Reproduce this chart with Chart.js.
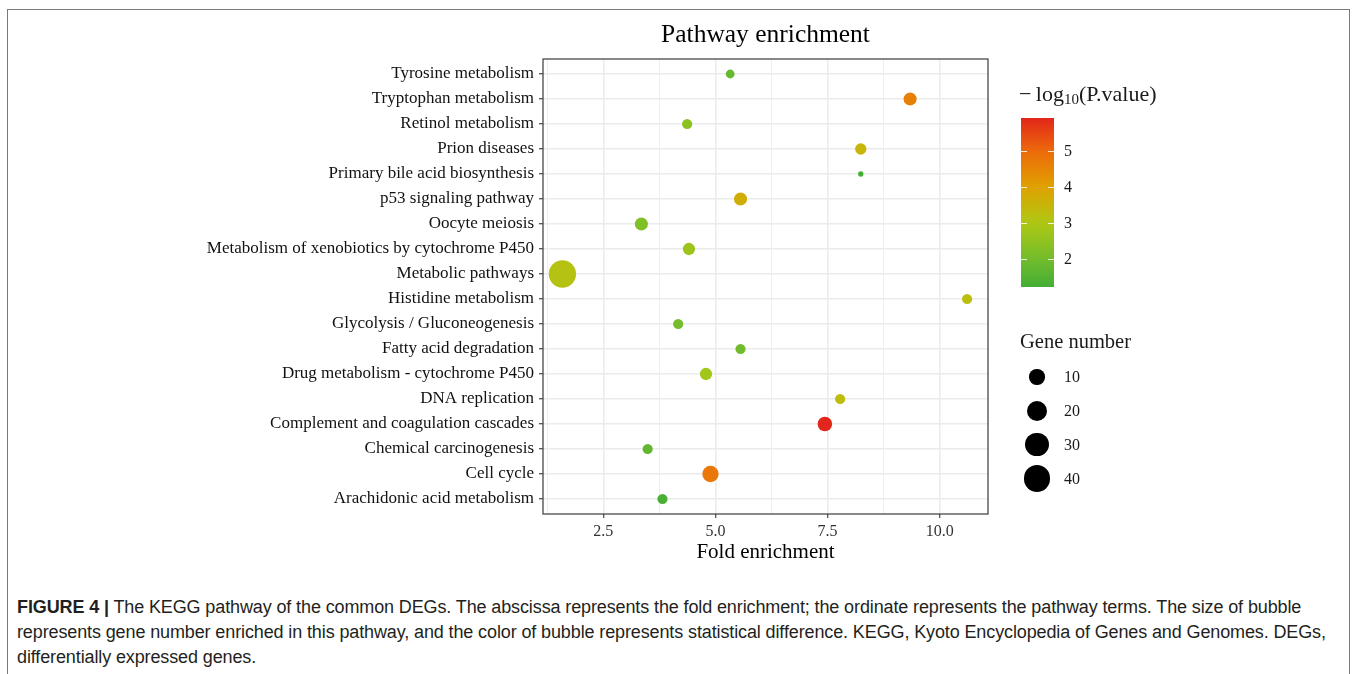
<!DOCTYPE html>
<html>
<head>
<meta charset="utf-8">
<script src="https://cdn.jsdelivr.net/npm/chart.js@4/dist/chart.umd.min.js"></script>
<style>
  html, body { margin: 0; padding: 0; background: #fff; width: 1355px; height: 674px; overflow: hidden; }
  #frame { position: absolute; left: 7px; top: 9px; width: 1343px; height: 720px; border: 1.5px solid #7a7a7a; box-sizing: border-box; }
  #wrap { position: absolute; left: 0; top: 0; width: 1355px; height: 575px; }
  .serif { font-family: "Liberation Serif", "Times New Roman", serif; color: #1a1a1a; position: absolute; white-space: nowrap; }
  #cbTitle { left: 1019px; top: 80px; font-size: 22px; line-height: 28px; }
  #cbTitle sub { font-size: 15px; vertical-align: -3px; line-height: 0; }
  #colorbar { position: absolute; left: 1021px; top: 118px; width: 33px; height: 169px; }
  .cbTick { position: absolute; height: 1px; width: 6px; background: rgba(255,255,255,0.85); }
  .lab { font-size: 16px; line-height: 16px; }
  #gnTitle { left: 1020px; top: 329px; font-size: 20.5px; line-height: 24px; }
  .dot { position: absolute; border-radius: 50%; background: #000; }
  #caption { position: absolute; left: 17px; top: 595px; font-family: "Liberation Sans", Arial, sans-serif; font-size: 18px; line-height: 25px; color: #231f20; white-space: nowrap; letter-spacing: -0.12px; }
  #caption b { font-weight: bold; }
</style>
</head>
<body>
<div id="frame"></div>
<div id="wrap"><canvas id="chart" width="1355" height="575"></canvas></div>
<div id="cbTitle" class="serif">&minus;&thinsp;log<sub>10</sub>(P.value)</div>
<div id="colorbar"></div>
<div id="gnTitle" class="serif">Gene number</div>
<div id="caption"><b>FIGURE 4 |</b> The KEGG pathway of the common DEGs. The abscissa represents the fold enrichment; the ordinate represents the pathway terms. The size of bubble<br>represents gene number enriched in this pathway, and the color of bubble represents statistical difference. KEGG, Kyoto Encyclopedia of Genes and Genomes. DEGs,<br>differentially expressed genes.</div>

<script>
// KEGG pathways, listed top to bottom as they appear on the y axis
const pathways = [
  'Tyrosine metabolism',
  'Tryptophan metabolism',
  'Retinol metabolism',
  'Prion diseases',
  'Primary bile acid biosynthesis',
  'p53 signaling pathway',
  'Oocyte meiosis',
  'Metabolism of xenobiotics by cytochrome P450',
  'Metabolic pathways',
  'Histidine metabolism',
  'Glycolysis / Gluconeogenesis',
  'Fatty acid degradation',
  'Drug metabolism - cytochrome P450',
  'DNA replication',
  'Complement and coagulation cascades',
  'Chemical carcinogenesis',
  'Cell cycle',
  'Arachidonic acid metabolism'
];
const foldEnrichment = [5.33, 9.34, 4.37, 8.24, 8.24, 5.56, 3.35, 4.41, 1.59, 10.61, 4.17, 5.56, 4.79, 7.78, 7.44, 3.49, 4.89, 3.82];
const geneNumber     = [3, 7, 4, 5, 2, 7, 7, 6, 42, 4, 4, 4, 6, 4, 9, 4, 12, 4];
const negLog10P      = [1.80, 4.60, 2.45, 3.50, 1.23, 3.70, 2.25, 2.70, 3.15, 3.25, 2.05, 2.00, 2.80, 3.30, 5.92, 1.75, 4.75, 1.35];

// axis ticks
const xGridValues = [1.25, 2.5, 3.75, 5, 6.25, 7.5, 8.75, 10];
const xLabelStep = 2.5;
const colorbarTicks = [2, 3, 4, 5];
const geneLegendValues = [10, 20, 30, 40];

const X_MIN = 1.157, X_MAX = 11.076;
const SERIF = '"Liberation Serif", "Times New Roman", serif';

// colour scale for -log10(P) (green -> yellow -> orange -> red)
const colorStops = [
  [1.23, [67, 174, 53]],
  [2.0,  [114, 188, 44]],
  [3.0,  [174, 200, 20]],
  [4.0,  [223, 162, 0]],
  [5.0,  [236, 106, 10]],
  [5.92, [227, 38, 27]]
];
function colorFor(v) {
  if (v <= colorStops[0][0]) return 'rgb(' + colorStops[0][1].join(',') + ')';
  for (let i = 1; i < colorStops.length; i++) {
    const [v1, c1] = colorStops[i];
    const [v0, c0] = colorStops[i - 1];
    if (v <= v1) {
      const t = (v - v0) / (v1 - v0);
      const c = c0.map((a, k) => Math.round(a + (c1[k] - a) * t));
      return 'rgb(' + c.join(',') + ')';
    }
  }
  return 'rgb(' + colorStops[colorStops.length - 1][1].join(',') + ')';
}

// bubble area scale: size from 1 to 6 by sqrt of the rescaled gene count
const nMin = Math.min(...geneNumber), nMax = Math.max(...geneNumber);
function diameterFor(n) {
  const t = Math.max(0, (n - nMin) / (nMax - nMin));
  return 0.9 + 4.4 * (1 + 5 * Math.sqrt(t));
}

const points = pathways.map((_, i) => ({ x: foldEnrichment[i], y: i + 1 }));
const radii = geneNumber.map(n => diameterFor(n) / 2);
const colors = negLog10P.map(colorFor);

const isMajor = v => Math.abs(v / xLabelStep - Math.round(v / xLabelStep)) < 1e-6;

const panelBorder = {
  id: 'panelBorder',
  afterDraw(chart) {
    const { ctx, chartArea: a } = chart;
    ctx.save();
    ctx.strokeStyle = '#3a3a3a';
    ctx.lineWidth = 1.2;
    ctx.strokeRect(a.left, a.top, a.right - a.left, a.bottom - a.top);
    ctx.restore();
  }
};

new Chart(document.getElementById('chart'), {
  type: 'scatter',
  data: {
    datasets: [{
      data: points,
      pointRadius: radii,
      pointHoverRadius: radii,
      pointBackgroundColor: colors,
      pointBorderWidth: 0,
      borderWidth: 0
    }]
  },
  options: {
    responsive: false,
    animation: false,
    devicePixelRatio: 1,
    layout: { padding: { left: 0, right: 367, top: 0, bottom: 0 } },
    plugins: { legend: { display: false }, tooltip: { enabled: false } },
    scales: {
      x: {
        type: 'linear', position: 'bottom', min: X_MIN, max: X_MAX,
        afterBuildTicks: s => { s.ticks = xGridValues.map(v => ({ value: v })); },
        afterFit: s => { s.height = 61; },
        border: { display: false },
        grid: {
          color: '#ebebeb',
          lineWidth: c => (c.tick && isMajor(c.tick.value)) ? 1.5 : 0.8,
          drawTicks: true, tickLength: 4, tickWidth: 1.1,
          tickColor: c => (c.tick && isMajor(c.tick.value)) ? '#333' : 'rgba(0,0,0,0)'
        },
        ticks: {
          autoSkip: false, maxRotation: 0, padding: 4, color: '#333',
          font: { family: SERIF, size: 16 },
          callback: v => isMajor(v) ? v.toFixed(1) : ''
        },
        title: { display: true, text: 'Fold enrichment', color: '#000', font: { family: SERIF, size: 21 }, padding: { top: 0, bottom: 10 } }
      },
      x2: {
        type: 'linear', position: 'top', min: X_MIN, max: X_MAX,
        afterFit: s => { s.height = 59; },
        border: { display: false },
        grid: { display: false },
        ticks: { display: false },
        title: { display: true, text: 'Pathway enrichment', color: '#000', font: { family: SERIF, size: 25.5 }, padding: { top: 20, bottom: 0 } }
      },
      y: {
        type: 'linear', reverse: true, min: 0.4, max: pathways.length + 0.6,
        afterBuildTicks: s => { s.ticks = pathways.map((_, i) => ({ value: i + 1 })); },
        afterFit: s => { s.width = 543; },
        border: { display: false },
        grid: { color: '#ebebeb', lineWidth: 1.5, drawTicks: true, tickLength: 4, tickWidth: 1.1, tickColor: '#333' },
        ticks: {
          autoSkip: false, padding: 5, color: '#111',
          font: { family: SERIF, size: 17 },
          callback: v => pathways[Math.round(v) - 1]
        }
      }
    }
  },
  plugins: [panelBorder]
});

// colour bar legend
(function () {
  const bar = document.getElementById('colorbar');
  const lo = Math.min(...negLog10P), hi = Math.max(...negLog10P);
  const grad = [];
  for (let k = 0; k <= 20; k++) {
    const v = hi - (hi - lo) * k / 20;
    grad.push(colorFor(v) + ' ' + (k * 5) + '%');
  }
  bar.style.background = 'linear-gradient(to bottom, ' + grad.join(', ') + ')';
  const H = 169, top = 118;
  colorbarTicks.forEach(v => {
    const y = (hi - v) / (hi - lo) * H;
    ['0px', '27px'].forEach(left => {
      const t = document.createElement('div');
      t.className = 'cbTick';
      t.style.left = left; t.style.top = (y - 0.5) + 'px';
      bar.appendChild(t);
    });
    const lab = document.createElement('div');
    lab.className = 'serif lab';
    lab.textContent = v;
    lab.style.left = '1064px';
    lab.style.top = (top + y - 8) + 'px';
    document.body.appendChild(lab);
  });
})();

// gene number legend
(function () {
  const cx = 1037, ys = [377, 411, 444.5, 478.5];
  geneLegendValues.forEach((n, i) => {
    const d = diameterFor(n);
    const dot = document.createElement('div');
    dot.className = 'dot';
    dot.style.width = d + 'px'; dot.style.height = d + 'px';
    dot.style.left = (cx - d / 2) + 'px'; dot.style.top = (ys[i] - d / 2) + 'px';
    document.body.appendChild(dot);
    const lab = document.createElement('div');
    lab.className = 'serif lab';
    lab.textContent = n;
    lab.style.left = '1064px';
    lab.style.top = (ys[i] - 8) + 'px';
    document.body.appendChild(lab);
  });
})();
</script>
</body>
</html>
